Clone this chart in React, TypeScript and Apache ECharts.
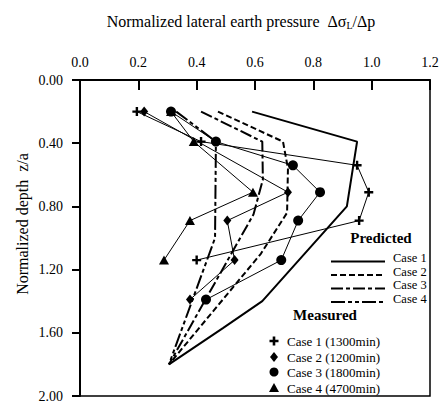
import React, { useEffect, useRef } from 'react';
import * as echarts from 'echarts';

const FONT = 'Liberation Serif, Times New Roman, serif';

const xMin = 0;
const xMax = 1.2;
const xStep = 0.2;
const yMin = 0;
const yMax = 2.0;
const yStep = 0.4;

// Predicted curves: [normalized pressure, normalized depth]
const predCase1 = [[0.59, 0.2], [0.95, 0.39], [0.915, 0.8], [0.625, 1.4], [0.49, 1.57], [0.305, 1.8]];
const predCase2 = [[0.473, 0.2], [0.696, 0.39], [0.713, 0.56], [0.71, 0.84], [0.62, 1.1], [0.305, 1.8]];
const predCase3 = [[0.415, 0.2], [0.625, 0.39], [0.627, 0.63], [0.595, 0.85], [0.305, 1.8]];
const predCase4 = [[0.33, 0.2], [0.466, 0.39], [0.463, 1.0], [0.305, 1.8]];

// Measured points
const measCase1 = [[0.195, 0.2], [0.415, 0.39], [0.95, 0.54], [0.99, 0.71], [0.957, 0.89], [0.4, 1.14]];
const measCase2 = [[0.22, 0.2], [0.713, 0.71], [0.505, 0.89], [0.53, 1.14], [0.377, 1.39]];
const measCase3 = [[0.312, 0.2], [0.466, 0.39], [0.73, 0.54], [0.823, 0.71], [0.748, 0.89], [0.69, 1.14], [0.432, 1.39]];
const measCase4 = [[0.312, 0.2], [0.39, 0.39], [0.593, 0.71], [0.377, 0.89], [0.288, 1.14]];

const predNames = ['Case 1', 'Case 2', 'Case 3', 'Case 4'];
const measNames = ['Case 1 (1300min)', 'Case 2 (1200min)', 'Case 3 (1800min)', 'Case 4 (4700min)'];

const dashes: any[] = ['solid', [6, 3], [12, 3, 4, 3], [14, 3, 4, 3, 4, 3]];
const PLUS = 'path://M3.3,0H5.7V3.3H9V5.7H5.7V9H3.3V5.7H0V3.3H3.3Z';

export default function App() {
  const ref = useRef<HTMLDivElement>(null);
  useEffect(() => {
    if (!ref.current) return;
    const chart = echarts.init(ref.current, null, { renderer: 'svg' });
    const preds = [predCase1, predCase2, predCase3, predCase4];
    const meas = [measCase1, measCase2, measCase3, measCase4];
    const symbols = [PLUS, 'diamond', 'circle', 'triangle'];
    const sizes: any[] = [9, [8, 10], 10, [10, 9]];

    const series: any[] = [];
    preds.forEach((d, i) => {
      series.push({
        name: predNames[i],
        type: 'line',
        data: d,
        symbol: 'none',
        lineStyle: { color: '#000', width: 2, type: dashes[i] },
        z: 2,
      });
    });
    meas.forEach((d, i) => {
      series.push({
        name: measNames[i],
        type: 'line',
        data: d,
        symbol: symbols[i],
        symbolSize: sizes[i],
        itemStyle: { color: '#000' },
        lineStyle: { color: '#000', width: 1 },
        z: 3,
      });
    });

    const legendG: any[] = [];
    const textYs = [258, 271.5, 285, 298.5];
    predNames.forEach((n, i) => {
      const ly = textYs[i] + 3.5;
      legendG.push({
        type: 'line',
        shape: { x1: 331, y1: ly, x2: 385, y2: ly },
        style: {
          stroke: '#000',
          lineWidth: 2,
          lineDash: dashes[i] === 'solid' ? null : dashes[i],
        },
      });
      legendG.push({
        type: 'text',
        x: 393,
        y: textYs[i],
        style: { text: n, fontSize: 12.5, fontFamily: FONT, fill: '#000', align: 'left', verticalAlign: 'middle' },
      });
    });
    const mYs = [341, 357, 372, 388];
    const mx = 274;
    legendG.push({
      type: 'polygon',
      shape: {
        points: [
          [mx - 1.3, mYs[0] - 4.5], [mx + 1.3, mYs[0] - 4.5], [mx + 1.3, mYs[0] - 1.3], [mx + 4.5, mYs[0] - 1.3],
          [mx + 4.5, mYs[0] + 1.3], [mx + 1.3, mYs[0] + 1.3], [mx + 1.3, mYs[0] + 4.5], [mx - 1.3, mYs[0] + 4.5],
          [mx - 1.3, mYs[0] + 1.3], [mx - 4.5, mYs[0] + 1.3], [mx - 4.5, mYs[0] - 1.3], [mx - 1.3, mYs[0] - 1.3],
        ],
      },
      style: { fill: '#000' },
    });
    legendG.push({
      type: 'polygon',
      shape: { points: [[mx, mYs[1] - 5], [mx + 4, mYs[1]], [mx, mYs[1] + 5], [mx - 4, mYs[1]]] },
      style: { fill: '#000' },
    });
    legendG.push({ type: 'circle', shape: { cx: mx, cy: mYs[2], r: 4.5 }, style: { fill: '#000' } });
    legendG.push({
      type: 'polygon',
      shape: { points: [[mx, mYs[3] - 5], [mx + 5, mYs[3] + 4], [mx - 5, mYs[3] + 4]] },
      style: { fill: '#000' },
    });
    measNames.forEach((n, i) => {
      legendG.push({
        type: 'text',
        x: 287,
        y: mYs[i],
        style: { text: n, fontSize: 13, fontFamily: FONT, fill: '#000', align: 'left', verticalAlign: 'middle' },
      });
    });

    chart.setOption({
      animation: false,
      backgroundColor: '#fff',
      grid: { left: 80, right: 16, top: 80, bottom: 2, show: true, borderColor: '#000', borderWidth: 1.5 },
      xAxis: {
        type: 'value',
        position: 'top',
        min: xMin,
        max: xMax,
        interval: xStep,
        axisLine: { show: true, lineStyle: { color: '#000', width: 2 } },
        axisTick: { show: true, inside: true, length: 10, lineStyle: { color: '#000', width: 2 } },
        axisLabel: { margin: 11, color: '#000', fontSize: 14, fontFamily: FONT, formatter: (v: number) => v.toFixed(1) },
        splitLine: { show: false },
      },
      yAxis: {
        type: 'value',
        inverse: true,
        min: yMin,
        max: yMax,
        interval: yStep,
        axisLine: { show: true, lineStyle: { color: '#000', width: 2 } },
        axisTick: { show: true, inside: false, length: 8, lineStyle: { color: '#000', width: 2 } },
        axisLabel: { margin: 17, color: '#000', fontSize: 14, fontFamily: FONT, formatter: (v: number) => v.toFixed(2) },
        splitLine: { show: false },
      },
      graphic: [
        {
          type: 'text',
          x: 241,
          y: 21,
          style: {
            text: 'Normalized lateral earth pressure  {d|Δσ}{s|L}{d|/Δp}',
            fontSize: 16,
            fontFamily: FONT,
            fill: '#000',
            align: 'center',
            verticalAlign: 'middle',
            rich: {
              d: { fontSize: 16, fontFamily: FONT, fill: '#000' },
              s: { fontSize: 10, fontFamily: FONT, fill: '#000', padding: [9, 0, 0, 0] },
            },
          },
        },
        {
          type: 'text',
          x: 22,
          y: 224,
          rotation: Math.PI / 2,
          style: {
            text: 'Normalized depth  z/a',
            fontSize: 16,
            fontFamily: FONT,
            fill: '#000',
            align: 'center',
            verticalAlign: 'middle',
          },
        },
        {
          type: 'text',
          x: 381,
          y: 238,
          style: { text: 'Predicted', fontSize: 15, fontWeight: 'bold', fontFamily: FONT, fill: '#000', align: 'center', verticalAlign: 'middle' },
        },
        {
          type: 'text',
          x: 325,
          y: 315,
          style: { text: 'Measured', fontSize: 15, fontWeight: 'bold', fontFamily: FONT, fill: '#000', align: 'center', verticalAlign: 'middle' },
        },
        ...legendG,
      ],
      series,
    });
    return () => chart.dispose();
  }, []);
  return <div ref={ref} style={{ position: 'fixed', left: 0, top: 0, width: 446, height: 403 }} />;
}
